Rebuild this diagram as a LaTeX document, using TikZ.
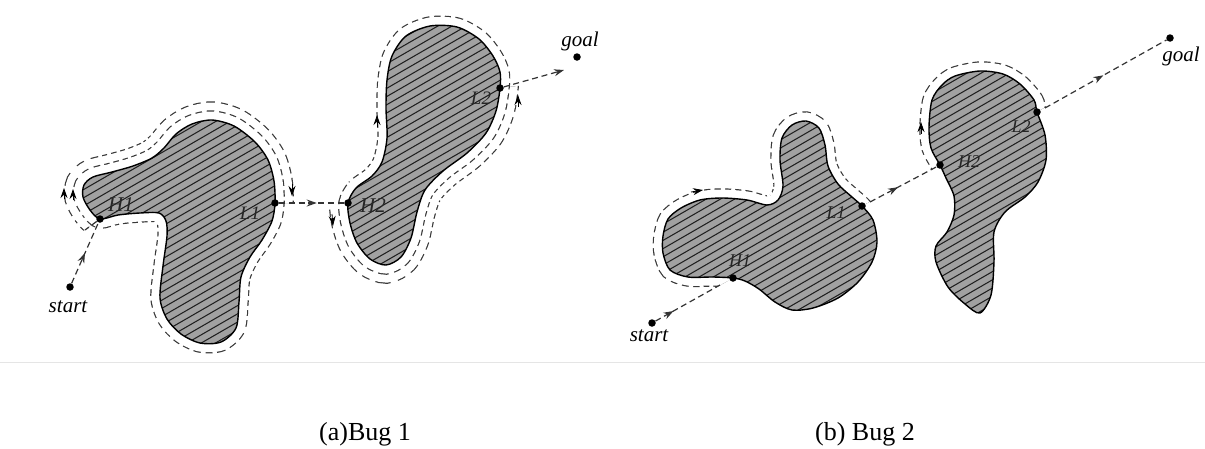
\documentclass[tikz,border=0pt]{standalone}
\usepackage{fontspec}
\setmainfont{Liberation Serif}
\usetikzlibrary{arrows.meta,decorations.markings}

\tikzset{
  route/.style={draw=black!80, line width=1.2pt, dash pattern=on 6pt off 3.8pt},
  % two solid parallel lines at +-(#1/2) from the outline ...
  band/.style={draw=black!78, line width=1.2pt, double=white, double distance=#1},
  % ... broken into dashes by a white stroke laid across them
  gapped/.style={draw=white, line width=#1+6pt, dash pattern=on 3.8pt off 6pt},
  obstaclefill/.style={fill=black!37},
  obstacleedge/.style={draw=black, line width=1.4pt},
  hatchline/.style={draw=black!88, line width=1.05pt},
  dot/.style={circle, fill=black, inner sep=0pt, minimum size=7.5pt},
  headtip/.style={-{Stealth[length=10pt,width=7pt]}, draw=black, line width=0.8pt},
  midarrow/.style={postaction={decorate}, decoration={markings,
      mark=at position #1 with {\arrow{Stealth[length=10pt,width=7pt]}}}},
  lbl/.style={font=\fontsize{21}{24}\selectfont\itshape, inner sep=0pt},
  ptlbl/.style={font=\fontsize{#1}{24}\selectfont\itshape, inner sep=0pt, text=black!85},
  caption/.style={font=\fontsize{26}{30}\selectfont, inner sep=0pt},
  rule/.style={draw=black!10, line width=1pt},
}

% obstacle outlines (pixel coordinates, y pointing down)
\def\obsAa{plot[smooth cycle] coordinates {(100,219) (90,210) (83,197) (84,185) (93,177) (112,172) (133,166) (152,158) (164,148) (176,134) (192,124) (212,120) (234,126) (255,142) (268,160) (274,181) (275,203) (272,221) (262,240) (250,257) (241,277) (239,302) (236,328) (221,342) (200,343) (181,334) (167,319) (160,298) (163,266) (167,236) (166,221) (159,213) (140,213) (118,215)}}
\def\obsAb{plot[smooth cycle] coordinates {(348,203) (356,188) (372,176) (382,162) (387,138) (386,108) (387,80) (392,56) (406,36) (430,26) (457,27) (479,39) (493,56) (500,72) (500,88) (496,111) (486,133) (467,153) (443,171) (425,190) (417,212) (411,238) (401,257) (386,265) (370,259) (357,243) (350,223)}}
\def\obsBa{plot[smooth cycle] coordinates {(733,278) (713,277) (688,277) (670,270) (663,253) (663,236) (668,219) (681,208) (700,200) (722,198) (747,200) (767,205) (778,200) (783,186) (780,160) (782,138) (792,125) (806,121) (819,128) (825,145) (828,166) (838,184) (852,197) (862,206) (873,220) (877,242) (872,262) (858,282) (838,298) (813,308) (792,310) (775,302) (759,289) (745,281)}}
\def\obsBb{plot[smooth cycle] coordinates {(940,165) (931,148) (929,127) (932,100) (942,85) (955,76) (980,71) (1003,74) (1020,84) (1034,100) (1037,112) (1045,135) (1046,160) (1038,182) (1025,197) (1005,212) (994,232) (994,262) (991,295) (980,313) (965,304) (948,287) (936,262) (936,246) (947,232) (954,215) (954,196) (946,178)}}

\begin{document}
\begin{tikzpicture}[x=1pt,y=-1pt]
\useasboundingbox (0,0) rectangle (1205,448);
\fill[white] (0,0) rectangle (1205,448);

% ---------- Bug 1: boundary-following passes ----------
% second pass, H1 back to L1 over the top
\begin{scope}
  \clip (40,262) -- (100,219) -- (275,203) -- (320,203) -- (320,80) -- (40,80) -- cycle;
  \draw[band=35pt] \obsAa;
  \draw[gapped=35pt] \obsAa;
\end{scope}
% second pass on the right obstacle, H2 round the bottom to L2
\begin{scope}
  \clip (300,203) -- (348,203) -- (500,88) -- (570,80) -- (570,320) -- (300,320) -- cycle;
  \draw[band=35pt] \obsAb;
  \draw[gapped=35pt] \obsAb;
\end{scope}
% full circuits
\draw[band=17pt] \obsAa;
\draw[gapped=17pt] \obsAa;
\draw[band=17pt] \obsAb;
\draw[gapped=17pt] \obsAb;

% ---------- Bug 2: boundary-following until the m-line ----------
\begin{scope}
  \clip (690,302) -- (733,278) -- (862,206) -- (905,182) -- (905,60) -- (600,60) -- (600,302) -- cycle;
  \draw[band=17pt] \obsBa;
  \draw[gapped=17pt] \obsBa;
\end{scope}
\begin{scope}
  \clip (900,187) -- (1062,98) -- (1062,40) -- (900,40) -- cycle;
  \draw[band=17pt] \obsBb;
  \draw[gapped=17pt] \obsBb;
\end{scope}

% ---------- obstacles: grey fill, hatching, outline ----------
\foreach \obs in {\obsAa,\obsAb,\obsBa,\obsBb}{
  \fill[obstaclefill] \obs;
  \begin{scope}
    \clip \obs;
    \foreach \c in {0,8.2,...,1150}
      \draw[hatchline] (0,\c) -- (1205,\c-695.7);
  \end{scope}
  \draw[obstacleedge] \obs;
}

% ---------- points ----------
\node[dot] (aS)  at (70,287)  {};
\node[dot] (aG)  at (577,57)  {};
\node[dot] (aH1) at (100,219) {};
\node[dot] (aL1) at (275,203) {};
\node[dot] (aH2) at (348,203) {};
\node[dot] (aL2) at (500,88)  {};
\coordinate (aGend) at (564,70);
\coordinate (aH1out) at (85,230);

\node[dot] (bS)  at (652,323)  {};
\node[dot] (bG)  at (1170,38)  {};
\node[dot] (bH1) at (733,278)  {};
\node[dot] (bL1) at (862,206)  {};
\node[dot] (bH2) at (940,165)  {};
\node[dot] (bL2) at (1037,112) {};
\coordinate (bH1o) at (720,285);
\coordinate (bL1o) at (870,202);
\coordinate (bL2o) at (1045,108);

% ---------- straight motion segments ----------
\draw[route, midarrow=0.5] (aS) -- (aH1);
\draw[route] (aH1) -- (aH1out);
\draw[route, midarrow=0.58] (aL1) -- (aH2);
\draw[route, -{Stealth[length=10pt,width=7pt]}] (aL2) -- (aGend);

\draw[route, midarrow=0.28] (bS) -- (bH1o);
\draw[route, midarrow=0.42] (bL1o) -- (bH2);
\draw[route, midarrow=0.48] (bL2o) -- (bG);

% ---------- direction marks on the boundary paths ----------
\draw[headtip] (64,199) -- (64,188);
\draw[headtip] (73,200) -- (73,189);
\draw[headtip] (292,184) -- (292,196);
\draw[headtip] (332,214) -- (333,226);
\draw[headtip] (377,127) -- (377,115);
\draw[headtip] (518,107) -- (518,95);
\draw[headtip] (691,192) -- (703,190);
\draw[headtip] (921,134) -- (921,122);

% ---------- labels ----------
\node[lbl] (tS1) at (68,307) {start};
\node[lbl] (tG1) at (580,41) {goal};
\node[ptlbl=21] (tH1a) at (121,205) {H1};
\node[ptlbl=19] (tL1a) at (250,213) {L1};
\node[ptlbl=21] (tH2a) at (373,206) {H2};
\node[ptlbl=19] (tL2a) at (481,98) {L2};

\node[lbl] (tS2) at (649,336) {start};
\node[lbl] (tG2) at (1181,56) {goal};
\node[ptlbl=18] (tH1b) at (740,261) {H1};
\node[ptlbl=18] (tL1b) at (836,213) {L1};
\node[ptlbl=18] (tH2b) at (969,162) {H2};
\node[ptlbl=18] (tL2b) at (1021,127) {L2};

% ---------- rule and captions ----------
\draw[rule] (0,362) -- (1205,362);
\node[caption] (capA) at (365,434) {(a)Bug 1};
\node[caption] (capB) at (865,434) {(b) Bug 2};
\end{tikzpicture}
\end{document}
